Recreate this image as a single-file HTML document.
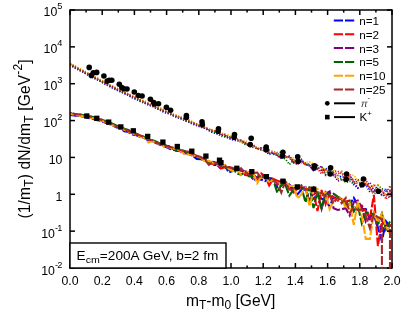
<!DOCTYPE html>
<html><head><meta charset="utf-8"><title>plot</title>
<style>html,body{margin:0;padding:0;background:#fff;}svg{display:block;will-change:transform;font-family:"Liberation Sans",sans-serif;}</style></head><body>
<svg width="416" height="324" viewBox="0 0 416 324">
<rect x="0" y="0" width="416" height="324" fill="#fff"/>
<defs><clipPath id="cp"><rect x="70.0" y="10.0" width="322.0" height="258.0"/></clipPath></defs>
<g clip-path="url(#cp)" fill="none" stroke-linejoin="miter" stroke-linecap="butt">
<path d="M70.0,65.1 L72.0,66.3 L76.0,68.6 L80.1,70.7 L84.1,72.7 L88.1,75.1 L92.1,77.1 L96.2,79.4 L100.2,81.3 L104.2,83.7 L108.2,85.7 L112.3,88.0 L116.3,89.8 L120.3,91.8 L124.3,93.6 L128.4,95.4 L132.4,97.8 L136.4,99.4 L140.4,101.4 L144.5,103.2 L148.5,105.1 L152.5,106.3 L156.5,108.1 L160.6,110.5 L164.6,112.7 L168.6,113.3 L172.6,115.3 L176.7,117.3 L180.7,118.8 L184.7,120.5 L188.7,122.1 L192.8,124.2 L196.8,125.5 L200.8,127.2 L204.8,128.3 L208.9,130.6 L212.9,132.8 L216.9,133.8 L220.9,134.8 L225.0,135.7 L229.0,138.4 L233.0,139.9 L237.0,140.8 L241.1,140.3 L245.1,143.2 L249.1,144.3 L253.1,145.9 L257.2,148.7 L261.2,148.4 L265.2,150.9 L269.2,154.6 L273.3,152.9 L277.3,155.4 L281.3,158.0 L285.3,157.2 L289.4,156.9 L293.4,161.6 L297.4,164.3 L301.4,160.3 L305.5,164.6 L309.5,165.6 L313.5,171.0 L317.5,165.6 L321.6,170.2 L325.6,168.4 L329.6,170.9 L333.6,174.9 L337.7,175.3 L341.7,177.2 L345.7,176.8 L349.7,175.5 L353.8,184.7 L357.8,188.1 L361.8,184.5 L365.8,184.7 L369.9,192.0 L373.9,190.6 L377.9,191.1 L381.9,195.0 L386.0,189.5 L390.0,191.0 L392.0,195.5" stroke="#0000ff" stroke-width="1.7" stroke-dasharray="1.2 1.6"/>
<path d="M70.0,114.6 L72.0,115.1 L76.0,115.6 L80.1,116.2 L84.1,116.8 L88.1,117.9 L92.1,118.5 L96.2,119.9 L100.2,120.8 L104.2,122.2 L108.2,123.7 L112.3,125.1 L116.3,127.2 L120.3,128.6 L124.3,131.2 L128.4,132.0 L132.4,134.5 L136.4,135.2 L140.4,137.1 L144.5,138.1 L148.5,140.5 L152.5,141.2 L156.5,143.3 L160.6,145.0 L164.6,146.4 L168.6,148.3 L172.6,149.7 L176.7,150.8 L180.7,151.2 L184.7,152.9 L188.7,154.0 L192.8,156.0 L196.8,158.9 L200.8,159.2 L204.8,159.4 L208.9,162.9 L212.9,164.9 L216.9,164.8 L220.9,168.7 L225.0,166.1 L229.0,172.5 L233.0,170.9 L237.0,168.3 L241.1,168.6 L245.1,174.1 L249.1,172.6 L253.1,179.8 L257.2,179.1 L261.2,179.6 L265.2,181.1 L269.2,178.0 L273.3,178.7 L277.3,187.4 L281.3,185.7 L285.3,182.1 L289.4,184.7 L293.4,191.8 L297.4,194.4 L301.4,189.7 L305.5,189.7 L309.5,199.2 L313.5,198.8 L317.5,194.7 L321.6,198.8 L325.6,199.5 L329.6,206.8 L333.6,197.4 L337.7,198.0 L341.7,198.9 L345.7,203.6 L349.7,204.8 L353.8,197.8 L357.8,205.0 L361.8,209.1 L365.8,209.1 L369.9,218.9 L373.9,214.7 L377.9,227.6 L381.9,241.0 L386.0,221.2 L390.0,226.3" stroke="#0000ff" stroke-width="2.1" stroke-dasharray="9 2" stroke-dashoffset="0"/>
<path d="M70.0,63.6 L72.0,64.7 L76.0,67.0 L80.1,69.5 L84.1,71.4 L88.1,73.4 L92.1,75.8 L96.2,77.9 L100.2,80.1 L104.2,82.0 L108.2,84.4 L112.3,86.3 L116.3,88.6 L120.3,90.3 L124.3,92.2 L128.4,94.3 L132.4,96.1 L136.4,97.7 L140.4,99.9 L144.5,101.4 L148.5,103.7 L152.5,105.1 L156.5,107.1 L160.6,108.6 L164.6,110.7 L168.6,112.7 L172.6,114.3 L176.7,115.6 L180.7,117.1 L184.7,119.3 L188.7,120.6 L192.8,122.2 L196.8,124.3 L200.8,125.3 L204.8,127.6 L208.9,129.3 L212.9,130.4 L216.9,131.5 L220.9,133.4 L225.0,136.1 L229.0,136.7 L233.0,139.1 L237.0,139.7 L241.1,141.2 L245.1,142.8 L249.1,144.2 L253.1,145.9 L257.2,148.1 L261.2,150.0 L265.2,149.7 L269.2,150.0 L273.3,151.8 L277.3,152.7 L281.3,152.3 L285.3,157.0 L289.4,157.1 L293.4,163.2 L297.4,160.2 L301.4,159.8 L305.5,164.9 L309.5,165.4 L313.5,168.8 L317.5,168.6 L321.6,174.0 L325.6,169.3 L329.6,173.0 L333.6,172.6 L337.7,173.8 L341.7,171.8 L345.7,179.7 L349.7,174.3 L353.8,181.8 L357.8,183.5 L361.8,184.8 L365.8,179.6 L369.9,189.1 L373.9,185.3 L377.9,190.5 L381.9,189.2 L386.0,199.3 L390.0,191.2 L392.0,194.0" stroke="#ff0000" stroke-width="1.7" stroke-dasharray="1.2 1.6"/>
<path d="M70.0,113.6 L72.0,114.1 L76.0,114.7 L80.1,115.5 L84.1,116.0 L88.1,116.7 L92.1,117.4 L96.2,118.3 L100.2,120.0 L104.2,120.9 L108.2,123.0 L112.3,124.1 L116.3,125.8 L120.3,127.2 L124.3,129.2 L128.4,131.1 L132.4,132.8 L136.4,134.4 L140.4,135.9 L144.5,137.6 L148.5,139.7 L152.5,140.8 L156.5,142.9 L160.6,143.9 L164.6,144.8 L168.6,147.9 L172.6,148.4 L176.7,150.7 L180.7,151.4 L184.7,151.5 L188.7,154.2 L192.8,155.2 L196.8,155.8 L200.8,158.0 L204.8,159.3 L208.9,162.7 L212.9,163.8 L216.9,162.7 L220.9,168.5 L225.0,167.3 L229.0,167.4 L233.0,167.9 L237.0,172.2 L241.1,168.8 L245.1,175.1 L249.1,175.4 L253.1,173.8 L257.2,178.8 L261.2,173.4 L265.2,176.2 L269.2,185.5 L273.3,178.9 L277.3,180.6 L281.3,182.2 L285.3,182.6 L289.4,187.5 L293.4,192.5 L297.4,188.8 L301.4,187.0 L305.5,188.2 L309.5,190.0 L313.5,192.4 L317.5,211.0 L321.6,190.0 L325.6,204.0 L329.6,192.5 L333.6,197.3 L337.7,200.7 L341.7,200.3 L345.7,201.5 L349.7,200.4 L353.8,210.3 L357.8,207.2 L361.8,205.6 L365.8,211.3 L369.9,218.1 L373.9,195.0 L377.9,246.0 L381.9,221.0 L386.0,226.0 L390.0,231.0" stroke="#ff0000" stroke-width="2.1" stroke-dasharray="9 2" stroke-dashoffset="3.5"/>
<path d="M70.0,64.7 L72.0,65.9 L76.0,68.2 L80.1,70.4 L84.1,72.7 L88.1,74.6 L92.1,76.8 L96.2,78.9 L100.2,81.0 L104.2,83.4 L108.2,85.3 L112.3,87.1 L116.3,89.1 L120.3,91.5 L124.3,93.0 L128.4,95.0 L132.4,97.2 L136.4,99.2 L140.4,101.1 L144.5,102.6 L148.5,104.2 L152.5,106.1 L156.5,108.2 L160.6,110.0 L164.6,112.0 L168.6,113.6 L172.6,115.4 L176.7,116.6 L180.7,118.2 L184.7,120.2 L188.7,122.0 L192.8,123.3 L196.8,125.5 L200.8,126.2 L204.8,128.3 L208.9,129.5 L212.9,131.7 L216.9,133.4 L220.9,134.4 L225.0,136.4 L229.0,138.6 L233.0,138.6 L237.0,140.0 L241.1,141.3 L245.1,143.3 L249.1,144.1 L253.1,144.6 L257.2,148.9 L261.2,147.9 L265.2,147.8 L269.2,153.1 L273.3,151.9 L277.3,156.0 L281.3,158.4 L285.3,156.2 L289.4,157.3 L293.4,162.8 L297.4,158.9 L301.4,161.1 L305.5,163.3 L309.5,164.7 L313.5,170.5 L317.5,168.8 L321.6,166.2 L325.6,175.4 L329.6,174.9 L333.6,174.2 L337.7,181.0 L341.7,180.0 L345.7,181.1 L349.7,178.4 L353.8,181.6 L357.8,187.9 L361.8,186.6 L365.8,185.1 L369.9,182.6 L373.9,190.4 L377.9,190.8 L381.9,195.2 L386.0,195.6 L390.0,197.8 L392.0,195.1" stroke="#800080" stroke-width="1.7" stroke-dasharray="1.2 1.6"/>
<path d="M70.0,113.5 L72.0,113.8 L76.0,114.3 L80.1,115.1 L84.1,116.0 L88.1,116.4 L92.1,117.2 L96.2,118.1 L100.2,120.1 L104.2,121.7 L108.2,122.7 L112.3,124.3 L116.3,126.3 L120.3,127.0 L124.3,129.0 L128.4,130.7 L132.4,132.7 L136.4,134.3 L140.4,136.2 L144.5,137.1 L148.5,139.4 L152.5,140.7 L156.5,142.2 L160.6,143.8 L164.6,145.9 L168.6,146.0 L172.6,148.4 L176.7,149.4 L180.7,151.0 L184.7,153.5 L188.7,152.9 L192.8,155.0 L196.8,156.4 L200.8,158.0 L204.8,160.4 L208.9,161.7 L212.9,162.5 L216.9,164.7 L220.9,166.0 L225.0,166.7 L229.0,167.1 L233.0,170.8 L237.0,170.1 L241.1,170.6 L245.1,171.2 L249.1,172.0 L253.1,179.0 L257.2,177.0 L261.2,175.9 L265.2,176.9 L269.2,179.5 L273.3,181.2 L277.3,184.9 L281.3,180.6 L285.3,183.8 L289.4,184.8 L293.4,188.9 L297.4,186.4 L301.4,188.6 L305.5,187.2 L309.5,203.0 L313.5,192.3 L317.5,193.4 L321.6,208.9 L325.6,193.9 L329.6,191.5 L333.6,208.3 L337.7,210.0 L341.7,209.2 L345.7,208.3 L349.7,215.4 L353.8,202.1 L357.8,200.5 L361.8,207.5 L365.8,221.7 L369.9,216.8 L373.9,214.2 L377.9,221.6 L381.9,230.4 L386.0,224.4 L390.0,227.2" stroke="#800080" stroke-width="2.1" stroke-dasharray="9 2" stroke-dashoffset="7"/>
<path d="M70.0,64.4 L72.0,65.6 L76.0,67.8 L80.1,70.0 L84.1,72.0 L88.1,74.4 L92.1,76.6 L96.2,78.6 L100.2,80.8 L104.2,82.6 L108.2,85.2 L112.3,87.0 L116.3,88.9 L120.3,91.1 L124.3,93.0 L128.4,94.9 L132.4,96.7 L136.4,98.7 L140.4,100.6 L144.5,102.6 L148.5,104.4 L152.5,106.1 L156.5,108.1 L160.6,109.6 L164.6,111.0 L168.6,112.7 L172.6,115.1 L176.7,116.1 L180.7,118.0 L184.7,119.9 L188.7,121.8 L192.8,122.6 L196.8,124.5 L200.8,126.2 L204.8,127.8 L208.9,129.6 L212.9,131.6 L216.9,133.1 L220.9,136.1 L225.0,136.9 L229.0,136.4 L233.0,137.7 L237.0,140.2 L241.1,141.6 L245.1,144.5 L249.1,145.5 L253.1,147.3 L257.2,147.8 L261.2,149.8 L265.2,151.2 L269.2,151.8 L273.3,154.4 L277.3,152.7 L281.3,158.0 L285.3,158.8 L289.4,164.4 L293.4,160.5 L297.4,159.0 L301.4,162.1 L305.5,164.4 L309.5,164.5 L313.5,164.8 L317.5,168.0 L321.6,167.0 L325.6,174.5 L329.6,169.2 L333.6,176.0 L337.7,178.6 L341.7,178.5 L345.7,182.6 L349.7,181.2 L353.8,184.1 L357.8,180.0 L361.8,180.1 L365.8,183.8 L369.9,187.5 L373.9,191.8 L377.9,185.3 L381.9,188.8 L386.0,189.6 L390.0,197.0 L392.0,194.8" stroke="#006400" stroke-width="1.7" stroke-dasharray="1.2 1.6"/>
<path d="M70.0,112.9 L72.0,113.7 L76.0,114.2 L80.1,114.5 L84.1,115.2 L88.1,116.1 L92.1,116.7 L96.2,118.1 L100.2,119.0 L104.2,120.6 L108.2,121.7 L112.3,123.6 L116.3,125.4 L120.3,127.0 L124.3,128.7 L128.4,130.0 L132.4,132.0 L136.4,133.7 L140.4,135.8 L144.5,136.9 L148.5,139.0 L152.5,140.3 L156.5,141.6 L160.6,144.3 L164.6,145.3 L168.6,146.3 L172.6,148.2 L176.7,150.8 L180.7,150.4 L184.7,151.0 L188.7,154.0 L192.8,153.7 L196.8,156.4 L200.8,159.1 L204.8,159.9 L208.9,162.6 L212.9,161.9 L216.9,163.0 L220.9,165.4 L225.0,165.2 L229.0,171.5 L233.0,169.1 L237.0,173.5 L241.1,174.7 L245.1,172.6 L249.1,176.4 L253.1,175.6 L257.2,176.3 L261.2,176.5 L265.2,176.8 L269.2,181.1 L273.3,180.4 L277.3,192.7 L281.3,184.9 L285.3,184.5 L289.4,195.6 L293.4,190.0 L297.4,186.4 L301.4,187.2 L305.5,202.3 L309.5,186.5 L313.5,208.0 L317.5,191.2 L321.6,208.7 L325.6,192.1 L329.6,195.6 L333.6,193.8 L337.7,196.7 L341.7,199.0 L345.7,205.1 L349.7,201.0 L353.8,211.4 L357.8,205.1 L361.8,223.3 L365.8,212.8 L369.9,212.4 L373.9,214.7 L377.9,223.5 L381.9,213.6 L386.0,229.6 L390.0,221.5" stroke="#006400" stroke-width="2.1" stroke-dasharray="9 2" stroke-dashoffset="1.5"/>
<path d="M70.0,63.1 L72.0,64.4 L76.0,66.4 L80.1,68.7 L84.1,70.8 L88.1,73.0 L92.1,75.4 L96.2,77.4 L100.2,79.5 L104.2,81.7 L108.2,83.9 L112.3,85.8 L116.3,87.8 L120.3,89.5 L124.3,91.8 L128.4,93.7 L132.4,95.3 L136.4,97.2 L140.4,99.4 L144.5,100.9 L148.5,102.7 L152.5,104.5 L156.5,106.7 L160.6,108.1 L164.6,110.0 L168.6,112.0 L172.6,113.8 L176.7,115.5 L180.7,117.1 L184.7,118.8 L188.7,119.8 L192.8,121.9 L196.8,123.8 L200.8,125.4 L204.8,126.6 L208.9,128.6 L212.9,129.9 L216.9,131.6 L220.9,132.9 L225.0,134.0 L229.0,134.9 L233.0,136.5 L237.0,138.7 L241.1,143.2 L245.1,140.4 L249.1,144.1 L253.1,146.3 L257.2,147.6 L261.2,148.2 L265.2,149.9 L269.2,151.5 L273.3,151.8 L277.3,153.2 L281.3,155.2 L285.3,156.7 L289.4,158.4 L293.4,158.0 L297.4,163.1 L301.4,163.3 L305.5,162.9 L309.5,162.0 L313.5,163.7 L317.5,166.8 L321.6,168.7 L325.6,168.4 L329.6,173.9 L333.6,169.8 L337.7,178.1 L341.7,171.4 L345.7,179.2 L349.7,175.7 L353.8,175.2 L357.8,180.8 L361.8,182.2 L365.8,183.9 L369.9,187.7 L373.9,186.0 L377.9,184.7 L381.9,190.3 L386.0,195.4 L390.0,195.5 L392.0,193.5" stroke="#ffa500" stroke-width="1.7" stroke-dasharray="1.2 1.6"/>
<path d="M70.0,114.0 L72.0,114.2 L76.0,115.1 L80.1,115.6 L84.1,116.3 L88.1,117.0 L92.1,118.0 L96.2,118.9 L100.2,120.1 L104.2,121.8 L108.2,123.0 L112.3,125.2 L116.3,126.5 L120.3,128.8 L124.3,129.6 L128.4,131.7 L132.4,133.0 L136.4,134.9 L140.4,136.9 L144.5,138.0 L148.5,142.5 L152.5,141.1 L156.5,143.4 L160.6,143.9 L164.6,147.0 L168.6,147.3 L172.6,148.3 L176.7,149.2 L180.7,151.0 L184.7,154.6 L188.7,154.3 L192.8,154.9 L196.8,156.6 L200.8,157.6 L204.8,161.5 L208.9,160.9 L212.9,162.9 L216.9,165.2 L220.9,165.3 L225.0,165.1 L229.0,168.9 L233.0,171.2 L237.0,169.2 L241.1,175.0 L245.1,171.6 L249.1,172.2 L253.1,172.5 L257.2,183.2 L261.2,176.2 L265.2,175.5 L269.2,182.7 L273.3,179.2 L277.3,184.6 L281.3,182.3 L285.3,180.8 L289.4,186.2 L293.4,185.8 L297.4,198.5 L301.4,194.1 L305.5,187.9 L309.5,206.2 L313.5,191.3 L317.5,188.8 L321.6,194.3 L325.6,192.6 L329.6,209.0 L333.6,200.3 L337.7,198.9 L341.7,197.4 L345.7,208.2 L349.7,203.1 L353.8,224.9 L357.8,201.1 L361.8,216.0 L365.8,238.9 L369.9,238.9 L373.9,213.0 L377.9,222.2 L381.9,213.9 L386.0,226.4 L390.0,233.6" stroke="#ffa500" stroke-width="2.1" stroke-dasharray="9 2" stroke-dashoffset="5"/>
<path d="M70.0,64.0 L72.0,65.2 L76.0,67.3 L80.1,69.7 L84.1,71.5 L88.1,73.9 L92.1,76.4 L96.2,78.2 L100.2,80.5 L104.2,82.3 L108.2,84.7 L112.3,86.7 L116.3,88.8 L120.3,90.5 L124.3,92.6 L128.4,94.3 L132.4,96.4 L136.4,97.9 L140.4,100.2 L144.5,102.1 L148.5,103.7 L152.5,106.0 L156.5,107.4 L160.6,109.6 L164.6,110.9 L168.6,112.5 L172.6,114.4 L176.7,117.0 L180.7,117.4 L184.7,119.4 L188.7,121.1 L192.8,123.0 L196.8,124.0 L200.8,126.7 L204.8,127.0 L208.9,129.9 L212.9,130.7 L216.9,131.8 L220.9,134.4 L225.0,134.3 L229.0,137.0 L233.0,137.5 L237.0,138.9 L241.1,140.3 L245.1,142.9 L249.1,146.3 L253.1,145.5 L257.2,149.1 L261.2,148.0 L265.2,151.3 L269.2,152.8 L273.3,152.9 L277.3,155.7 L281.3,156.5 L285.3,158.0 L289.4,155.7 L293.4,160.6 L297.4,165.0 L301.4,159.2 L305.5,164.1 L309.5,165.6 L313.5,167.4 L317.5,169.3 L321.6,171.3 L325.6,169.8 L329.6,172.3 L333.6,171.3 L337.7,170.9 L341.7,174.1 L345.7,177.6 L349.7,178.7 L353.8,179.1 L357.8,180.2 L361.8,186.3 L365.8,184.8 L369.9,187.0 L373.9,195.8 L377.9,188.2 L381.9,191.6 L386.0,194.6 L390.0,185.6 L392.0,194.4" stroke="#a52a2a" stroke-width="1.5" stroke-dasharray="1.2 1.6"/>
<path d="M70.0,113.0 L72.0,113.1 L76.0,114.2 L80.1,114.5 L84.1,115.3 L88.1,116.3 L92.1,117.0 L96.2,118.5 L100.2,119.3 L104.2,121.3 L108.2,122.6 L112.3,123.9 L116.3,126.6 L120.3,126.8 L124.3,128.7 L128.4,131.2 L132.4,132.3 L136.4,134.0 L140.4,135.5 L144.5,137.0 L148.5,139.7 L152.5,140.3 L156.5,142.6 L160.6,144.3 L164.6,145.6 L168.6,146.8 L172.6,147.5 L176.7,148.8 L180.7,149.9 L184.7,151.1 L188.7,151.8 L192.8,154.2 L196.8,156.1 L200.8,157.0 L204.8,159.5 L208.9,164.8 L212.9,162.3 L216.9,163.5 L220.9,165.6 L225.0,167.3 L229.0,167.2 L233.0,168.5 L237.0,169.5 L241.1,169.1 L245.1,171.5 L249.1,174.7 L253.1,172.9 L257.2,172.5 L261.2,178.3 L265.2,176.3 L269.2,178.2 L273.3,179.1 L277.3,183.5 L281.3,192.7 L285.3,181.4 L289.4,189.6 L293.4,189.3 L297.4,189.2 L301.4,185.2 L305.5,189.7 L309.5,188.5 L313.5,187.1 L317.5,194.6 L321.6,192.7 L325.6,196.3 L329.6,195.6 L333.6,203.0 L337.7,197.2 L341.7,203.1 L345.7,198.0 L349.7,212.9 L353.8,207.3 L357.8,210.1 L361.8,209.5 L365.8,215.5 L369.9,228.1 L373.9,214.0 L377.9,217.3 L381.9,219.0 L386.0,6000.0 L390.0,224.0" stroke="#a52a2a" stroke-width="2.1" stroke-dasharray="9 2" stroke-dashoffset="8.5"/>
</g>
<circle cx="89.2" cy="67.4" r="2.8" fill="#000"/>
<circle cx="91.4" cy="75.4" r="2.8" fill="#000"/>
<circle cx="93.3" cy="72.8" r="2.8" fill="#000"/>
<circle cx="96.7" cy="72.4" r="2.8" fill="#000"/>
<circle cx="103.9" cy="76" r="2.8" fill="#000"/>
<circle cx="107.2" cy="81.1" r="2.8" fill="#000"/>
<circle cx="109.3" cy="80.2" r="2.8" fill="#000"/>
<circle cx="111.8" cy="80.2" r="2.8" fill="#000"/>
<circle cx="119.3" cy="84.2" r="2.8" fill="#000"/>
<circle cx="121.8" cy="87.5" r="2.8" fill="#000"/>
<circle cx="123.7" cy="88.8" r="2.8" fill="#000"/>
<circle cx="127" cy="89" r="2.8" fill="#000"/>
<circle cx="134.3" cy="92" r="2.8" fill="#000"/>
<circle cx="138.3" cy="95.5" r="2.8" fill="#000"/>
<circle cx="142.1" cy="96" r="2.8" fill="#000"/>
<circle cx="150.4" cy="99.2" r="2.8" fill="#000"/>
<circle cx="153.7" cy="102.5" r="2.8" fill="#000"/>
<circle cx="154.5" cy="104" r="2.8" fill="#000"/>
<circle cx="158.5" cy="103.7" r="2.8" fill="#000"/>
<circle cx="166.4" cy="107.3" r="2.8" fill="#000"/>
<circle cx="170.6" cy="110.2" r="2.8" fill="#000"/>
<circle cx="186.4" cy="115.6" r="2.8" fill="#000"/>
<circle cx="186.4" cy="117.5" r="2.8" fill="#000"/>
<circle cx="202" cy="121.7" r="2.8" fill="#000"/>
<circle cx="202.3" cy="124.6" r="2.8" fill="#000"/>
<circle cx="218.5" cy="128.7" r="2.8" fill="#000"/>
<circle cx="218.1" cy="131.2" r="2.8" fill="#000"/>
<circle cx="234.5" cy="134.6" r="2.8" fill="#000"/>
<circle cx="234.1" cy="137.3" r="2.8" fill="#000"/>
<circle cx="251.2" cy="138.3" r="2.8" fill="#000"/>
<circle cx="250.2" cy="144.6" r="2.8" fill="#000"/>
<circle cx="266.2" cy="147.1" r="2.8" fill="#000"/>
<circle cx="266.2" cy="149.8" r="2.8" fill="#000"/>
<circle cx="282.9" cy="152.3" r="2.8" fill="#000"/>
<circle cx="282.5" cy="155.8" r="2.8" fill="#000"/>
<circle cx="297.7" cy="156.7" r="2.8" fill="#000"/>
<circle cx="298.1" cy="161.5" r="2.8" fill="#000"/>
<circle cx="314.5" cy="165.8" r="2.8" fill="#000"/>
<circle cx="314.1" cy="168" r="2.8" fill="#000"/>
<circle cx="330.6" cy="167.8" r="2.8" fill="#000"/>
<circle cx="330.2" cy="174" r="2.8" fill="#000"/>
<circle cx="346.6" cy="174" r="2.8" fill="#000"/>
<circle cx="346.2" cy="179.3" r="2.8" fill="#000"/>
<circle cx="363.5" cy="179" r="2.8" fill="#000"/>
<circle cx="362.2" cy="184.8" r="2.8" fill="#000"/>
<circle cx="378.3" cy="191.2" r="2.8" fill="#000"/>
<rect x="84.15" y="113.35" width="5.3" height="5.3" fill="#000"/>
<rect x="94.15" y="115.65" width="5.3" height="5.3" fill="#000"/>
<rect x="106.05" y="119.45" width="5.3" height="5.3" fill="#000"/>
<rect x="118.15" y="124.25" width="5.3" height="5.3" fill="#000"/>
<rect x="130.65" y="128.15" width="5.3" height="5.3" fill="#000"/>
<rect x="145.05" y="133.75" width="5.3" height="5.3" fill="#000"/>
<rect x="160.25" y="139.45" width="5.3" height="5.3" fill="#000"/>
<rect x="174.65" y="143.85" width="5.3" height="5.3" fill="#000"/>
<rect x="189.15" y="148.55" width="5.3" height="5.3" fill="#000"/>
<rect x="203.25" y="153.45" width="5.3" height="5.3" fill="#000"/>
<rect x="216.85" y="157.55" width="5.3" height="5.3" fill="#000"/>
<rect x="218.35" y="160.05" width="5.3" height="5.3" fill="#000"/>
<rect x="234.15" y="165.65" width="5.3" height="5.3" fill="#000"/>
<rect x="249.15" y="169.05" width="5.3" height="5.3" fill="#000"/>
<rect x="263.75" y="174.05" width="5.3" height="5.3" fill="#000"/>
<rect x="280.25" y="178.55" width="5.3" height="5.3" fill="#000"/>
<rect x="294.65" y="184.25" width="5.3" height="5.3" fill="#000"/>
<rect x="311.05" y="186.55" width="5.3" height="5.3" fill="#000"/>
<g stroke="#000" stroke-width="1.5" fill="none">
<rect x="70.0" y="10.0" width="322.0" height="258.0"/>
<line x1="70.00" y1="268.0" x2="70.00" y2="263.0"/>
<line x1="70.00" y1="10.0" x2="70.00" y2="15.0"/>
<line x1="86.10" y1="268.0" x2="86.10" y2="265.4"/>
<line x1="86.10" y1="10.0" x2="86.10" y2="12.6"/>
<line x1="102.20" y1="268.0" x2="102.20" y2="263.0"/>
<line x1="102.20" y1="10.0" x2="102.20" y2="15.0"/>
<line x1="118.30" y1="268.0" x2="118.30" y2="265.4"/>
<line x1="118.30" y1="10.0" x2="118.30" y2="12.6"/>
<line x1="134.40" y1="268.0" x2="134.40" y2="263.0"/>
<line x1="134.40" y1="10.0" x2="134.40" y2="15.0"/>
<line x1="150.50" y1="268.0" x2="150.50" y2="265.4"/>
<line x1="150.50" y1="10.0" x2="150.50" y2="12.6"/>
<line x1="166.60" y1="268.0" x2="166.60" y2="263.0"/>
<line x1="166.60" y1="10.0" x2="166.60" y2="15.0"/>
<line x1="182.70" y1="268.0" x2="182.70" y2="265.4"/>
<line x1="182.70" y1="10.0" x2="182.70" y2="12.6"/>
<line x1="198.80" y1="268.0" x2="198.80" y2="263.0"/>
<line x1="198.80" y1="10.0" x2="198.80" y2="15.0"/>
<line x1="214.90" y1="268.0" x2="214.90" y2="265.4"/>
<line x1="214.90" y1="10.0" x2="214.90" y2="12.6"/>
<line x1="231.00" y1="268.0" x2="231.00" y2="263.0"/>
<line x1="231.00" y1="10.0" x2="231.00" y2="15.0"/>
<line x1="247.10" y1="268.0" x2="247.10" y2="265.4"/>
<line x1="247.10" y1="10.0" x2="247.10" y2="12.6"/>
<line x1="263.20" y1="268.0" x2="263.20" y2="263.0"/>
<line x1="263.20" y1="10.0" x2="263.20" y2="15.0"/>
<line x1="279.30" y1="268.0" x2="279.30" y2="265.4"/>
<line x1="279.30" y1="10.0" x2="279.30" y2="12.6"/>
<line x1="295.40" y1="268.0" x2="295.40" y2="263.0"/>
<line x1="295.40" y1="10.0" x2="295.40" y2="15.0"/>
<line x1="311.50" y1="268.0" x2="311.50" y2="265.4"/>
<line x1="311.50" y1="10.0" x2="311.50" y2="12.6"/>
<line x1="327.60" y1="268.0" x2="327.60" y2="263.0"/>
<line x1="327.60" y1="10.0" x2="327.60" y2="15.0"/>
<line x1="343.70" y1="268.0" x2="343.70" y2="265.4"/>
<line x1="343.70" y1="10.0" x2="343.70" y2="12.6"/>
<line x1="359.80" y1="268.0" x2="359.80" y2="263.0"/>
<line x1="359.80" y1="10.0" x2="359.80" y2="15.0"/>
<line x1="375.90" y1="268.0" x2="375.90" y2="265.4"/>
<line x1="375.90" y1="10.0" x2="375.90" y2="12.6"/>
<line x1="392.00" y1="268.0" x2="392.00" y2="263.0"/>
<line x1="392.00" y1="10.0" x2="392.00" y2="15.0"/>
<line x1="70.0" y1="268.00" x2="75.0" y2="268.00"/>
<line x1="392.0" y1="268.00" x2="387.0" y2="268.00"/>
<line x1="70.0" y1="231.14" x2="75.0" y2="231.14"/>
<line x1="392.0" y1="231.14" x2="387.0" y2="231.14"/>
<line x1="70.0" y1="194.29" x2="75.0" y2="194.29"/>
<line x1="392.0" y1="194.29" x2="387.0" y2="194.29"/>
<line x1="70.0" y1="157.43" x2="75.0" y2="157.43"/>
<line x1="392.0" y1="157.43" x2="387.0" y2="157.43"/>
<line x1="70.0" y1="120.57" x2="75.0" y2="120.57"/>
<line x1="392.0" y1="120.57" x2="387.0" y2="120.57"/>
<line x1="70.0" y1="83.71" x2="75.0" y2="83.71"/>
<line x1="392.0" y1="83.71" x2="387.0" y2="83.71"/>
<line x1="70.0" y1="46.86" x2="75.0" y2="46.86"/>
<line x1="392.0" y1="46.86" x2="387.0" y2="46.86"/>
<line x1="70.0" y1="10.00" x2="75.0" y2="10.00"/>
<line x1="392.0" y1="10.00" x2="387.0" y2="10.00"/>
</g>
<path d="M381.9,266.8 V268.7 M389.9,266.8 V268.7" stroke="#a52a2a" stroke-width="1.7" fill="none"/>
<text x="70.00" y="284.6" font-size="12.3" text-anchor="middle" fill="#000">0.0</text>
<text x="102.20" y="284.6" font-size="12.3" text-anchor="middle" fill="#000">0.2</text>
<text x="134.40" y="284.6" font-size="12.3" text-anchor="middle" fill="#000">0.4</text>
<text x="166.60" y="284.6" font-size="12.3" text-anchor="middle" fill="#000">0.6</text>
<text x="198.80" y="284.6" font-size="12.3" text-anchor="middle" fill="#000">0.8</text>
<text x="231.00" y="284.6" font-size="12.3" text-anchor="middle" fill="#000">1.0</text>
<text x="263.20" y="284.6" font-size="12.3" text-anchor="middle" fill="#000">1.2</text>
<text x="295.40" y="284.6" font-size="12.3" text-anchor="middle" fill="#000">1.4</text>
<text x="327.60" y="284.6" font-size="12.3" text-anchor="middle" fill="#000">1.6</text>
<text x="359.80" y="284.6" font-size="12.3" text-anchor="middle" fill="#000">1.8</text>
<text x="392.00" y="284.6" font-size="12.3" text-anchor="middle" fill="#000">2.0</text>
<text x="62.4" y="274.90" font-size="12.3" text-anchor="end" fill="#000">10<tspan font-size="9.2" dy="-6.9" letter-spacing="-0.7">-</tspan><tspan font-size="9.2">2</tspan></text>
<text x="62.4" y="237.94" font-size="12.3" text-anchor="end" fill="#000">10<tspan font-size="9.2" dy="-6.9" letter-spacing="-0.7">-</tspan><tspan font-size="9.2">1</tspan></text>
<text x="62.4" y="200.99" font-size="12.3" text-anchor="end" fill="#000">1</text>
<text x="62.4" y="164.03" font-size="12.3" text-anchor="end" fill="#000">10</text>
<text x="62.4" y="127.07" font-size="12.3" text-anchor="end" fill="#000">10<tspan font-size="9.2" dy="-6.9">2</tspan></text>
<text x="62.4" y="90.11" font-size="12.3" text-anchor="end" fill="#000">10<tspan font-size="9.2" dy="-6.9">3</tspan></text>
<text x="62.4" y="53.16" font-size="12.3" text-anchor="end" fill="#000">10<tspan font-size="9.2" dy="-6.9">4</tspan></text>
<text x="62.4" y="16.20" font-size="12.3" text-anchor="end" fill="#000">10<tspan font-size="9.2" dy="-6.9">5</tspan></text>
<text x="230.6" y="306" font-size="15.6" text-anchor="middle" fill="#000">m<tspan font-size="12.0" dy="3.2">T</tspan><tspan dy="-3.2">-m</tspan><tspan font-size="12.0" dy="3.2">0</tspan><tspan dy="-3.2"> [GeV]</tspan></text>
<text transform="translate(29.5,138.9) rotate(-90)" font-size="15.6" letter-spacing="0.15" text-anchor="middle" fill="#000">(1/m<tspan font-size="12.0" dy="3.2">T</tspan><tspan dy="-3.2">) dN/dm</tspan><tspan font-size="12.0" dy="3.2">T</tspan><tspan dy="-3.2"> [GeV</tspan><tspan font-size="12.0" dy="-7.3">-2</tspan><tspan dy="7.3">]</tspan></text>
<line x1="333.8" y1="20.50" x2="354.6" y2="20.50" stroke="#0000ff" stroke-width="2" stroke-dasharray="9.2 2"/>
<text transform="translate(359.2,24.90) scale(1.085,1)" font-size="10.8" fill="#000">n=1</text>
<line x1="333.8" y1="34.30" x2="354.6" y2="34.30" stroke="#ff0000" stroke-width="2" stroke-dasharray="9.2 2"/>
<text transform="translate(359.2,38.70) scale(1.085,1)" font-size="10.8" fill="#000">n=2</text>
<line x1="333.8" y1="48.10" x2="354.6" y2="48.10" stroke="#800080" stroke-width="2" stroke-dasharray="9.2 2"/>
<text transform="translate(359.2,52.50) scale(1.085,1)" font-size="10.8" fill="#000">n=3</text>
<line x1="333.8" y1="61.90" x2="354.6" y2="61.90" stroke="#006400" stroke-width="2" stroke-dasharray="9.2 2"/>
<text transform="translate(359.2,66.30) scale(1.085,1)" font-size="10.8" fill="#000">n=5</text>
<line x1="333.8" y1="75.70" x2="354.6" y2="75.70" stroke="#ffa500" stroke-width="2" stroke-dasharray="9.2 2"/>
<text transform="translate(359.2,80.10) scale(1.085,1)" font-size="10.8" fill="#000">n=10</text>
<line x1="333.8" y1="89.50" x2="354.6" y2="89.50" stroke="#a52a2a" stroke-width="2" stroke-dasharray="9.2 2"/>
<text transform="translate(359.2,93.90) scale(1.085,1)" font-size="10.8" fill="#000">n=25</text>
<circle cx="327.3" cy="103.30" r="2.35" fill="#000"/>
<line x1="334" y1="103.30" x2="355" y2="103.30" stroke="#000" stroke-width="2"/>
<text transform="translate(360.3,106.50) skewX(-10)" font-size="10.2" fill="#3a3a3a">π</text>
<text x="367.6" y="100.30" font-size="8" fill="#222">-</text>
<rect x="325.0" y="114.80" width="4.6" height="4.6" fill="#000"/>
<line x1="334" y1="117.10" x2="355" y2="117.10" stroke="#000" stroke-width="2"/>
<text transform="translate(359.6,121.10) scale(1.0,1)" font-size="11.6" fill="#000">K<tspan font-size="7.8" dy="-5.6">+</tspan></text>
<rect x="70.0" y="243.0" width="156.0" height="25.0" fill="#fff" stroke="#000" stroke-width="1.4"/>
<text transform="translate(76.6,260.0) scale(1.083,1)" font-size="12.6" fill="#000">E<tspan font-size="9.8" dy="2.6">cm</tspan><tspan dy="-2.6">=200A GeV, b=2 fm</tspan></text>
</svg></body></html>
